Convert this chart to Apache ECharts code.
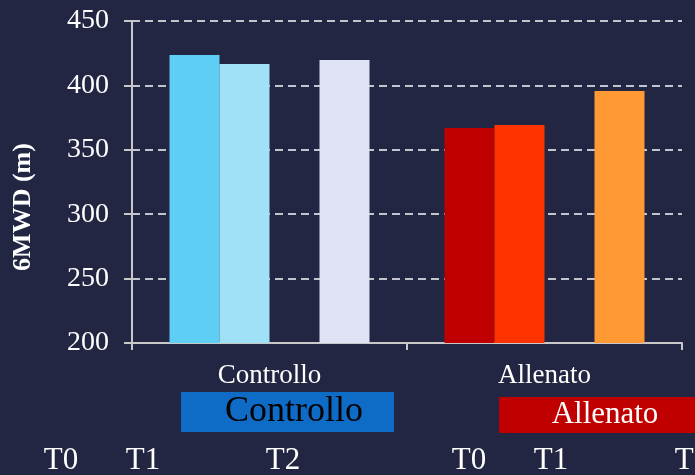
<!DOCTYPE html>
<html>
<head>
<meta charset="utf-8">
<script src="https://cdn.jsdelivr.net/npm/echarts@6/dist/echarts.min.js"></script>
<style>
  html, body { margin: 0; padding: 0; background: #222642; }
  #chart { width: 695px; height: 475px; }
</style>
</head>
<body>
<div id="chart"></div>
<script>
// categories and values (6MWD in metres)
var groups = ['Controllo', 'Allenato'];
var valT0 = [423.6, 366.9];
var valT1 = [416.6, 369.3];
var valT2 = [419.7, 395.7];
// colours per group: [Controllo, Allenato]
var colT0 = ['#5ecef4', '#c00000'];
var colT1 = ['#a0e1f8', '#ff3300'];
var colT2 = ['#dfe3f5', '#ff9933'];
// loose time labels at the bottom (as in the original slide)
var timeLabels = ['T0', 'T1', 'T2', 'T0', 'T1', 'T2'];
var timeLabelX = [61, 143, 283, 469, 551, 692];

var FONT = 'Liberation Serif';

function makeData(vals, cols) {
    return vals.map(function (v, i) {
        return { value: v, itemStyle: { color: cols[i] } };
    });
}

function txt(x, y, s, size, color, weight, rot) {
    return {
        type: 'text', x: x, y: y, rotation: rot || 0,
        style: {
            text: s, fill: color, fontSize: size, fontFamily: FONT,
            fontWeight: weight || 'normal', align: 'center', verticalAlign: 'middle'
        }
    };
}

var myChart = echarts.init(document.getElementById('chart'));

var graphics = [
    // y axis title
    txt(23, 207, '6MWD (m)', 26, '#fff', 'bold', Math.PI / 2),
    // legend-like boxes
    { type: 'rect', shape: { x: 181, y: 392, width: 213, height: 40 }, style: { fill: '#0f6cc6' } },
    txt(294, 412, 'Controllo', 36, '#000'),
    { type: 'rect', shape: { x: 499, y: 397, width: 200, height: 36 }, style: { fill: '#c00000' } },
    txt(605, 415, 'Allenato', 31, '#fff')
];
timeLabels.forEach(function (t, i) {
    graphics.push(txt(timeLabelX[i], 461, t, 31, '#fff'));
});

var option = {
    backgroundColor: '#222642',
    animation: false,
    grid: { left: 132, right: 13, top: 21, bottom: 132 },
    xAxis: {
        type: 'category',
        data: groups,
        axisLine: { lineStyle: { color: '#c8c8c8', width: 2 } },
        axisTick: { show: true, length: 7, lineStyle: { color: '#c8c8c8', width: 2 } },
        axisLabel: { color: '#fff', fontSize: 27, fontFamily: FONT, margin: 19 }
    },
    yAxis: {
        type: 'value',
        min: 200,
        max: 450,
        interval: 50,
        axisLine: { show: true, lineStyle: { color: '#c8c8c8', width: 2 } },
        axisTick: { show: true, length: 8, lineStyle: { color: '#c8c8c8', width: 2 } },
        axisLabel: { color: '#fff', fontSize: 28, fontFamily: FONT, margin: 23 },
        splitLine: { show: true, lineStyle: { color: '#c4c4cc', width: 2, type: [8, 5] } }
    },
    series: [
        { name: 'T0', type: 'bar', barWidth: 50, barGap: '0%', data: makeData(valT0, colT0) },
        { name: 'T1', type: 'bar', barWidth: 50, barGap: '0%', data: makeData(valT1, colT1) },
        { name: 'gap', type: 'bar', barWidth: 50, barGap: '0%', data: ['-', '-'] },
        { name: 'T2', type: 'bar', barWidth: 50, barGap: '0%', data: makeData(valT2, colT2) }
    ],
    graphic: graphics
};

myChart.setOption(option);
window.addEventListener('resize', function () {
    myChart.resize();
});
</script>
</body>
</html>
